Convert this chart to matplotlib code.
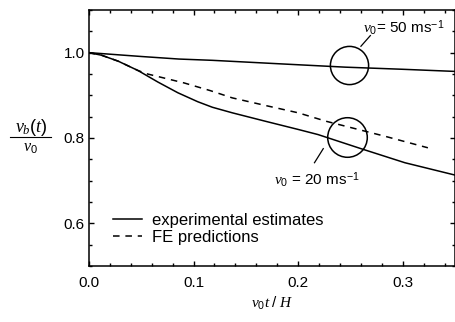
import matplotlib
matplotlib.use("Agg")
import matplotlib.pyplot as plt
from matplotlib.ticker import MultipleLocator
from matplotlib.lines import Line2D

plt.rcParams['font.family'] = ['Liberation Sans', 'DejaVu Sans']
plt.rcParams['mathtext.fontset'] = 'custom'
plt.rcParams['mathtext.rm'] = 'Liberation Sans'
plt.rcParams['mathtext.sf'] = 'Liberation Sans'
plt.rcParams['mathtext.it'] = 'Liberation Serif:italic'

# v0 = 50 m/s, experimental
exp50_x = [0.0, 0.05, 0.086, 0.118, 0.181, 0.245, 0.30, 0.35]
exp50_y = [1.0, 0.991, 0.985, 0.982, 0.974, 0.966, 0.961, 0.956]

# v0 = 20 m/s, experimental
exp20_x = [0.0, 0.012, 0.028, 0.047, 0.066, 0.085, 0.104, 0.118, 0.137,
           0.169, 0.2, 0.219, 0.26, 0.302, 0.35]
exp20_y = [1.0, 0.994, 0.98, 0.958, 0.931, 0.906, 0.885, 0.872, 0.859,
           0.839, 0.82, 0.808, 0.775, 0.742, 0.713]

# v0 = 20 m/s, FE
fe20_x = [0.0, 0.012, 0.028, 0.047, 0.056, 0.091, 0.116, 0.137, 0.169,
          0.2, 0.227, 0.251, 0.283, 0.324]
fe20_y = [1.0, 0.994, 0.98, 0.958, 0.950, 0.929, 0.911, 0.894, 0.876,
          0.859, 0.839, 0.824, 0.804, 0.777]

fig = plt.figure(figsize=(4.56, 3.22), dpi=100)
ax = fig.add_axes([0.195, 0.174, 0.803, 0.795])

ax.plot(exp50_x, exp50_y, color='black', lw=1.1)
ax.plot(exp20_x, exp20_y, color='black', lw=1.1, label='experimental estimates')
ax.plot(fe20_x, fe20_y, color='black', lw=1.1, dashes=(4.3, 3.8),
        label='FE predictions')

# circles marking the two cases
ax.plot([0.249], [0.970], marker='o', ms=27.5, mfc='none', mec='black', mew=1.1)
ax.plot([0.247], [0.803], marker='o', ms=28.5, mfc='none', mec='black', mew=1.1)

ax.plot([0.260, 0.269], [1.015, 1.040], color='black', lw=0.9)
ax.plot([0.224, 0.2156], [0.775, 0.742], color='black', lw=0.9)

ax.text(0.262, 1.046, r'$\mathit{v_0}$= 50 ms$^{-1}$', fontsize=11)
ax.text(0.1766, 0.691, r'$\mathit{v_0}$ = 20 ms$^{-1}$', fontsize=11)

ax.set_xlim(0, 0.35)
ax.set_ylim(0.5, 1.1)
ax.xaxis.set_major_locator(MultipleLocator(0.1))
ax.xaxis.set_minor_locator(MultipleLocator(0.02))
ax.yaxis.set_major_locator(MultipleLocator(0.2))
ax.yaxis.set_minor_locator(MultipleLocator(0.05))
ax.tick_params(which='both', direction='in', top=True, right=True, width=1)
ax.tick_params(which='major', length=3.6, labelsize=11)
ax.tick_params(which='minor', length=2.2)
ax.tick_params(axis='x', pad=7)
ax.tick_params(axis='y', pad=3)
for s in ax.spines.values():
    s.set_linewidth(1.1)

ax.legend(loc='center left', bbox_to_anchor=(0.066, 0.146), frameon=False,
          fontsize=12, handlelength=1.75, handletextpad=0.6, labelspacing=0.12,
          borderpad=0, borderaxespad=0)

ax.set_xlabel(r'$\mathit{v_0t\ /\ H}$', fontsize=11, labelpad=4)

# y label as a stacked fraction
fig.text(31 / 456, 1 - 128 / 322, r'$\mathit{v_b(t)}$', fontsize=13,
         ha='center', va='center')
fig.text(30.0 / 456, 1 - 148 / 322, r'$\mathit{v_0}$', fontsize=11.5,
         ha='center', va='center')
fig.add_artist(Line2D([10 / 456, 51 / 456], [1 - 137.3 / 322, 1 - 137.3 / 322],
                      color='black', lw=0.8))

fig.savefig('out.png', dpi=100)
